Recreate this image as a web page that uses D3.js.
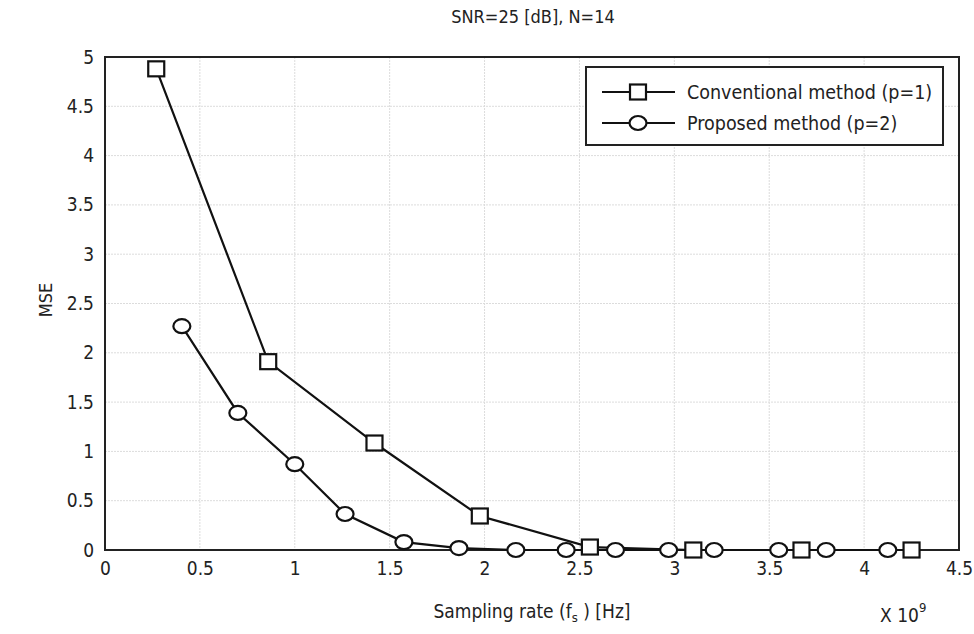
<!DOCTYPE html>
<html><head><meta charset="utf-8">
<script src="https://cdn.jsdelivr.net/npm/d3@7"></script>
<style>body{margin:0;background:#fff}svg text{font-family:"Liberation Sans Narrow","DejaVu Sans Condensed","Liberation Sans",sans-serif;fill:#222}</style>
</head><body><svg id="c" width="974" height="634"></svg>
<script>
const convX = [0.27, 0.86, 1.42, 1.975, 2.555, 3.10, 3.67, 4.25];
const convY = [4.88, 1.91, 1.085, 0.345, 0.03, 0.0, 0.0, 0.0];
const propX = [0.405, 0.70, 1.00, 1.265, 1.575, 1.865, 2.165, 2.43, 2.69, 2.97, 3.21, 3.55, 3.80, 4.125];
const propY = [2.27, 1.39, 0.87, 0.365, 0.08, 0.02, 0.0, 0.0, 0.0, 0.0, 0.0, 0.0, 0.0, 0.0];
const xTicks = [0, 0.5, 1, 1.5, 2, 2.5, 3, 3.5, 4, 4.5];
const yTicks = [0, 0.5, 1, 1.5, 2, 2.5, 3, 3.5, 4, 4.5, 5];
const seriesNames = ["Conventional method (p=1)", "Proposed method (p=2)"];

const svg = d3.select("#c");
const L = 105, R = 959, T = 57, B = 550;
const x = d3.scaleLinear().domain([0, 4.5]).range([L, R]);
const y = d3.scaleLinear().domain([0, 5]).range([B, T]);

// grid
svg.append("g").selectAll("line").data(xTicks.slice(1, -1)).join("line")
  .attr("x1", d => x(d)).attr("x2", d => x(d)).attr("y1", T).attr("y2", B)
  .attr("stroke", "#dcdcdc").attr("stroke-width", 1).attr("stroke-dasharray", "2,1");
svg.append("g").selectAll("line").data(yTicks.slice(1, -1)).join("line")
  .attr("y1", d => y(d)).attr("y2", d => y(d)).attr("x1", L).attr("x2", R)
  .attr("stroke", "#dcdcdc").attr("stroke-width", 1).attr("stroke-dasharray", "2,1");

// axes
const xa = svg.append("g").attr("transform", `translate(0,${B})`)
  .call(d3.axisBottom(x).tickValues(xTicks).tickSize(0).tickPadding(12).tickFormat(d3.format("")));
const ya = svg.append("g").attr("transform", `translate(${L},0)`)
  .call(d3.axisLeft(y).tickValues(yTicks).tickSize(0).tickPadding(11).tickFormat(d3.format("")));
[xa, ya].forEach(a => { a.select(".domain").remove(); a.selectAll("text").attr("font-size", 19).style("fill", "#222"); });

svg.append("rect").attr("x", L).attr("y", T).attr("width", R - L).attr("height", B - T)
  .attr("fill", "none").attr("stroke", "#222").attr("stroke-width", 2);

const line = d3.line().x(d => x(d[0])).y(d => y(d[1]));
const conv = convX.map((v, i) => [v, convY[i]]);
const prop = propX.map((v, i) => [v, propY[i]]);
svg.append("path").datum(conv).attr("d", line).attr("fill", "none").attr("stroke", "#111").attr("stroke-width", 2.2);
svg.append("path").datum(prop).attr("d", line).attr("fill", "none").attr("stroke", "#111").attr("stroke-width", 2.2);

function square(g, cx, cy) {
  g.append("rect").attr("x", cx - 8).attr("y", cy - 7.5).attr("width", 16).attr("height", 15)
    .attr("fill", "#fff").attr("stroke", "#111").attr("stroke-width", 2.2);
}
function circ(g, cx, cy) {
  g.append("ellipse").attr("cx", cx).attr("cy", cy).attr("rx", 8.5).attr("ry", 7)
    .attr("fill", "#fff").attr("stroke", "#111").attr("stroke-width", 2.2);
}
const mg = svg.append("g");
prop.forEach(d => circ(mg, x(d[0]), y(d[1])));
conv.forEach(d => square(mg, x(d[0]), y(d[1])));

// legend
const lg = svg.append("g");
lg.append("rect").attr("x", 586).attr("y", 67).attr("width", 357).attr("height", 78)
  .attr("fill", "#fff").attr("stroke", "#222").attr("stroke-width", 2);
[92, 123].forEach((ly, i) => {
  lg.append("line").attr("x1", 602).attr("x2", 675).attr("y1", ly).attr("y2", ly).attr("stroke", "#111").attr("stroke-width", 1.8);
  if (i === 0) square(lg, 638, ly); else circ(lg, 638, ly);
  lg.append("text").attr("x", 687).attr("y", ly).attr("dy", "0.35em").attr("font-size", 19.5).text(seriesNames[i]);
});

// titles
svg.append("text").attr("x", 533).attr("y", 23).attr("text-anchor", "middle").attr("font-size", 18).text("SNR=25 [dB], N=14");
svg.append("text").attr("transform", "translate(52,300) rotate(-90)").attr("text-anchor", "middle").attr("font-size", 18).text("MSE");
const xl = svg.append("text").attr("x", 532).attr("y", 618).attr("text-anchor", "middle").attr("font-size", 19);
xl.append("tspan").text("Sampling rate (f");
xl.append("tspan").attr("font-size", 13).attr("dy", 4).text("s");
xl.append("tspan").attr("dy", -4).text(" ) [Hz]");
const xm = svg.append("text").attr("x", 880).attr("y", 622).attr("font-size", 19);
xm.append("tspan").text("X 10");
xm.append("tspan").attr("font-size", 13).attr("dy", -10).text("9");
</script></body></html>
